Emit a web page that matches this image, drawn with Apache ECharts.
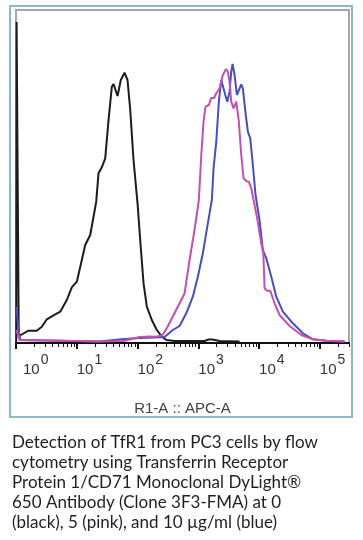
<!DOCTYPE html>
<html>
<head>
<meta charset="utf-8">
<script src="https://cdn.jsdelivr.net/npm/echarts@6/dist/echarts.min.js"></script>
<style>
html,body{margin:0;padding:0;background:#fff;}
#c{width:363px;height:540px;}
</style>
</head>
<body>
<div id="c"></div>
<script>
// x = log10(fluorescence intensity, APC-A), y = event count
const black = [
  [0.004,0],[0.010,321],[0.028,321],[0.045,8],[0.079,8],[0.206,12.3],[0.342,12.3],[0.425,16.3],[0.507,23.7],
  [0.617,27.7],[0.728,31.3],[0.836,43],[0.918,55.7],[1.001,61.3],[1.083,83],[1.139,98],
  [1.221,108],[1.276,126.3],[1.320,141.3],[1.358,169.7],[1.412,175.7],[1.468,184.7],
  [1.523,223],[1.577,256.3],[1.605,259],[1.671,247],[1.725,263],[1.786,270.3],[1.835,263],
  [1.880,233],[1.934,183],[2.000,139.7],[2.044,103],[2.099,59.7],[2.153,36.3],[2.235,23],
  [2.318,13],[2.400,6.3],[2.477,3],[2.609,2],[3.103,2],[3.170,3.5],[3.235,3.5],[3.35,2],[3.679,1.5]
];
const pink = [
  [0.008,13],[0.058,3],[0.074,1.5],[1.374,1.5],[1.770,2],[2.033,6],[2.198,6.5],[2.313,6.3],
  [2.412,8],[2.494,16.3],[2.719,43],[2.774,49.7],[2.856,83],[2.938,113],[3.009,143],
  [3.049,188],[3.086,221.3],[3.119,236.3],[3.174,238],[3.213,245.3],[3.256,244.7],
  [3.296,249.7],[3.350,254.7],[3.404,268],[3.457,274],[3.486,271.3],[3.514,261.3],
  [3.542,241.3],[3.580,234.7],[3.625,241.3],[3.667,221.3],[3.707,188],[3.745,164.7],
  [3.789,162],[3.832,161.3],[3.872,154.7],[3.909,143],[3.964,126.3],[4.036,99.7],
  [4.070,90],[4.091,54.7],[4.128,52.3],[4.184,52.3],[4.255,39.7],[4.337,28],[4.502,17],
  [4.695,8],[4.886,3.7],[5.106,2.3],[5.407,1.5]
];
const blue = [
  [0.008,36],[0.041,13],[0.074,3],[0.10,1.5],[1.374,1.5],[1.737,3.7],[2.033,5],[2.280,5.5],
  [2.444,6],[2.581,13],[2.691,17],[2.802,29.7],[2.910,46.3],[2.993,66.3],[3.075,89.7],
  [3.157,119.7],[3.223,143],[3.251,174.7],[3.296,201.3],[3.338,241.3],[3.378,263],
  [3.404,261.3],[3.444,248],[3.477,241.3],[3.514,251.3],[3.542,271.3],[3.564,279],
  [3.597,268],[3.635,248],[3.667,248],[3.707,258.7],[3.733,254.7],[3.778,229.7],
  [3.816,211.3],[3.855,204.7],[3.898,178],[3.942,148],[4.008,123],[4.062,93],[4.119,84.7],
  [4.201,66.3],[4.283,46.3],[4.392,31.3],[4.556,19.7],[4.721,9.7],[4.886,3.7],[5.106,2.3],
  [5.407,1.5]
];
const majorTicks = [0,1,2,3,4,5];
const tickExponents = ['0','1','2','3','4','5'];
const axisTitle = 'R1-A :: APC-A';
const captionLines = [
  'Detection of TfR1 from PC3 cells by flow',
  'cytometry using Transferrin Receptor',
  'Protein 1/CD71 Monoclonal DyLight\u00AE',
  '650 Antibody (Clone 3F3-FMA) at 0',
  '(black), 5 (pink), and 10 \u00B5g/ml (blue)'
];

const X_MAX = 5.48;
const minorTicks = [];
for (let n = 0; n <= 5; n++) {
  for (let k = 2; k <= 9; k++) {
    const v = n + Math.log10(k);
    if (v <= X_MAX) minorTicks.push(v);
  }
}

const chart = echarts.init(document.getElementById('c'), null, {renderer: 'canvas'});
const axFont = 'Liberation Sans, Arial, sans-serif';
chart.setOption({
  animation: false,
  backgroundColor: '#fff',
  grid: {left: 16, right: 14, top: 10, bottom: 197, show: true,
         borderColor: '#a6a6a6', borderWidth: 2, backgroundColor: '#fff'},
  xAxis: [
    {
      type: 'value', min: 0, max: X_MAX, position: 'bottom',
      axisLine: {show: true, lineStyle: {color: '#111', width: 2}},
      axisTick: {show: true, customValues: minorTicks, length: 4, inside: false,
                 lineStyle: {color: '#111', width: 1}},
      axisLabel: {show: false},
      splitLine: {show: false},
      name: axisTitle, nameLocation: 'middle', nameGap: 58,
      nameTextStyle: {fontFamily: axFont, fontSize: 15, color: '#444'}
    },
    {
      type: 'value', min: 0, max: X_MAX, position: 'bottom', offset: 0,
      axisLine: {show: false},
      axisTick: {show: true, customValues: majorTicks, length: 6,
                 lineStyle: {color: '#111', width: 2}},
      axisLabel: {
        show: true, customValues: majorTicks, align: 'left', margin: 10,
        formatter: function (v) {
          const i = Math.round(v);
          return (i === 0 ? '{b0|10}' : '{b|10}') + '{s|' + tickExponents[i] + '}';
        },
        rich: {
          b: {fontFamily: axFont, fontSize: 15, color: '#333', lineHeight: 24, verticalAlign: 'bottom'},
          b0: {fontFamily: axFont, fontSize: 15, color: '#333', lineHeight: 24, verticalAlign: 'bottom', padding: [0,0,0,7]},
          s: {fontFamily: axFont, fontSize: 14, color: '#333', lineHeight: 24, verticalAlign: 'top', padding: [0,0,0,1]}
        }
      },
      splitLine: {show: false}
    }
  ],
  yAxis: {type: 'value', min: 0, max: 333, show: false, splitLine: {show: false}},
  series: [
    {type: 'line', data: black, xAxisIndex: 0, showSymbol: false, symbol: 'none',
     lineStyle: {color: '#1c1c1c', width: 2}, z: 3},
    {type: 'line', data: blue, xAxisIndex: 0, showSymbol: false, symbol: 'none',
     lineStyle: {color: '#4650b6', width: 2}, z: 4},
    {type: 'line', data: pink, xAxisIndex: 0, showSymbol: false, symbol: 'none',
     lineStyle: {color: '#c54fae', width: 2}, z: 5}
  ],
  graphic: [
    {type: 'rect', shape: {x: 10, y: 6, width: 342, height: 411},
     style: {fill: 'none', stroke: '#8db7cd', lineWidth: 2}, z: 0, silent: true},
    {type: 'text', x: 12, y: 433,
     style: {text: captionLines.join('\n'), font: '17px Lato, sans-serif', fill: '#1f1f1f',
             lineHeight: 20, verticalAlign: 'top', align: 'left'}}
  ]
});
</script>
</body>
</html>
